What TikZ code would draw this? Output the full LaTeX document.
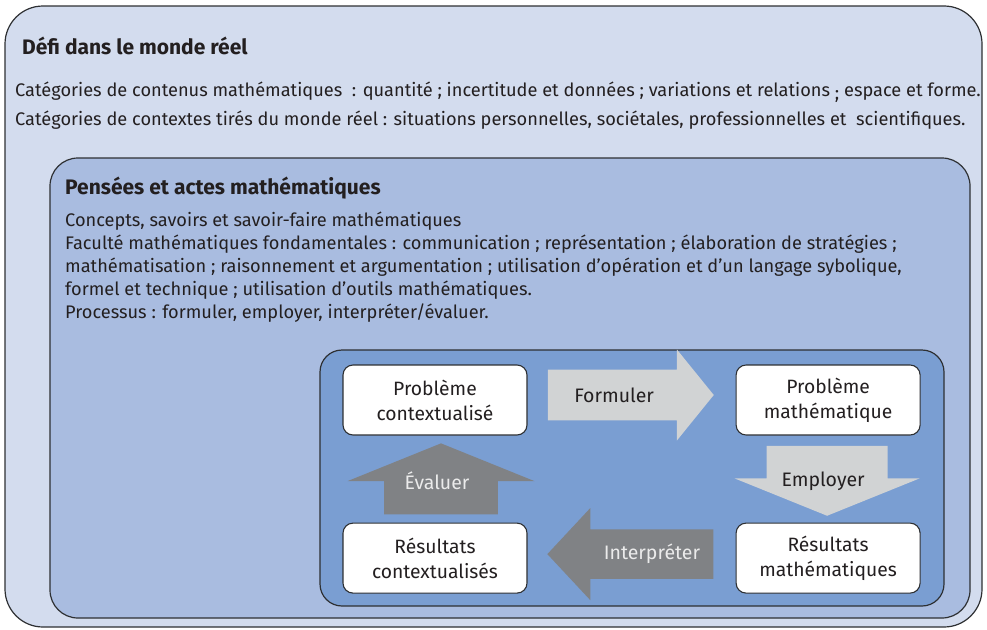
\documentclass[tikz,border=0pt]{standalone}
\usepackage{fontspec}
\setmainfont{Fira Sans}
\usetikzlibrary{positioning,shapes.arrows,calc}

\definecolor{outerblue}{HTML}{D3DCEE}
\definecolor{midblue}{HTML}{A9BCE0}
\definecolor{innerblue}{HTML}{7A9ED2}
\definecolor{lightarrow}{HTML}{D1D3D4}
\definecolor{darkarrow}{HTML}{808285}
\definecolor{inktext}{HTML}{231F20}
\definecolor{frameline}{HTML}{2E3033}

\begin{document}
\begin{tikzpicture}[x=1pt, y=-1pt, inner sep=0pt, text=inktext]

    \tikzstyle{frame}   = [draw=frameline, line width=1.2pt]
    \tikzstyle{heading} = [anchor=base west, font=\fontsize{21}{24}\selectfont\bfseries]
    \tikzstyle{body}    = [anchor=base west, font=\fontsize{18.2}{22}\selectfont]
    \tikzstyle{stage}   = [rectangle, rounded corners=10pt, draw=frameline, line width=1.1pt, fill=white,
                           minimum width=184pt, minimum height=70pt, align=center,
                           font=\fontsize{19.3}{25}\selectfont]
    \tikzstyle{verb}    = [font=\fontsize{19.5}{22}\selectfont]
    \tikzstyle{process} = [verb, single arrow, anchor=tail, draw=none]

    \useasboundingbox (0,0) rectangle (987,629);

    % the three nested frames
    \draw[frame, fill=outerblue, rounded corners=38pt] (5,6) rectangle (982,627);
    \draw[frame, fill=midblue, rounded corners=28pt]   (50,158) rectangle (970,618);
    \draw[frame, fill=innerblue, rounded corners=22pt] (320,350) rectangle (944,606);

    % real world challenge
    \node (defi)      [heading] at (22,54)  {Défi dans le monde réel};
    \node (contenus)  [body]    at (15,96)  {Catégories de contenus mathématiques\ \ : quantité ; incertitude et données ; variations et relations \raisebox{-3pt}{;} espace et forme.};
    \node (contextes) [body]    at (15,125) {Catégories de contextes tirés du monde réel : situations personnelles, sociétales, professionnelles et\ \ scientifiques.};

    % mathematical thought and action
    \node (pensees)   [heading] at (65,194) {Pensées et actes mathématiques};
    \node (concepts)  [body]    at (65,226) {Concepts, savoirs et savoir-faire mathématiques};
    \node (faculte)   [body]    at (65,249) {Faculté mathématiques fondamentales : communication ; représentation ; élaboration de stratégies ;};
    \node (faculte2)  [body]    at (65,272) {mathématisation ; raisonnement et argumentation ; utilisation d’opération et d’un langage sybolique,};
    \node (faculte3)  [body]    at (65,295) {formel et technique ; utilisation d’outils mathématiques.};
    \node (processus) [body]    at (65,318) {Processus : formuler, employer, interpréter/évaluer.};

    % modelling cycle
    \node (pc) [stage] at (435,400)       {Problème\\contextualisé};
    \node (pm) [stage, right=208pt of pc] {Problème\\mathématique};
    \node (rc) [stage, below=87pt of pc]  {Résultats\\contextualisés};
    \node (rm) [stage, below=87pt of pm]  {Résultats\\mathématiques};

    \node (formuler)    [process, fill=lightarrow, inner ysep=14.5pt, minimum height=166pt, minimum width=91pt,
                         single arrow head extend=17.5pt, single arrow tip angle=102]
                         at ($(pc.east)+(20,-5)$) {\phantom{Formuler}};
    \node (employer)    [process, fill=lightarrow, inner xsep=14pt, shape border rotate=270, minimum height=70pt,
                         minimum width=185pt, single arrow head extend=29.5pt, single arrow tip angle=136]
                         at ($(pm.south)+(-1,10)$) {\phantom{Employer}};
    \node (interpreter) [process, fill=darkarrow, inner ysep=11pt, shape border rotate=180,
                         minimum height=166pt, minimum width=92pt, single arrow head extend=18pt,
                         single arrow tip angle=94] at ($(rm.west)+(-22,-4)$) {\phantom{Interpréter}};
    \node (evaluer)     [process, fill=darkarrow, inner xsep=17pt, shape border rotate=90,
                         minimum height=71pt, minimum width=187pt, single arrow head extend=32pt,
                         single arrow tip angle=136] at ($(rc.north)+(6,-8)$) {\phantom{Évaluer}};

    \node (formulertext)    [verb] at ($(formuler.tail)!0.40!(formuler.tip)$)           {Formuler};
    \node (employertext)    [verb] at ($(employer.tail)!0.5!(employer.tip)+(-4,0)$)     {Employer};
    \node (interpretertext) [verb, text=white!92!black]
                                   at ($(interpreter.tail)!0.37!(interpreter.tip)$)     {Interpréter};
    \node (evaluertext)     [verb, text=white!92!black]
                                   at ($(evaluer.tail)!0.48!(evaluer.tip)+(-4,0)$)      {Évaluer};

\end{tikzpicture}
\end{document}
